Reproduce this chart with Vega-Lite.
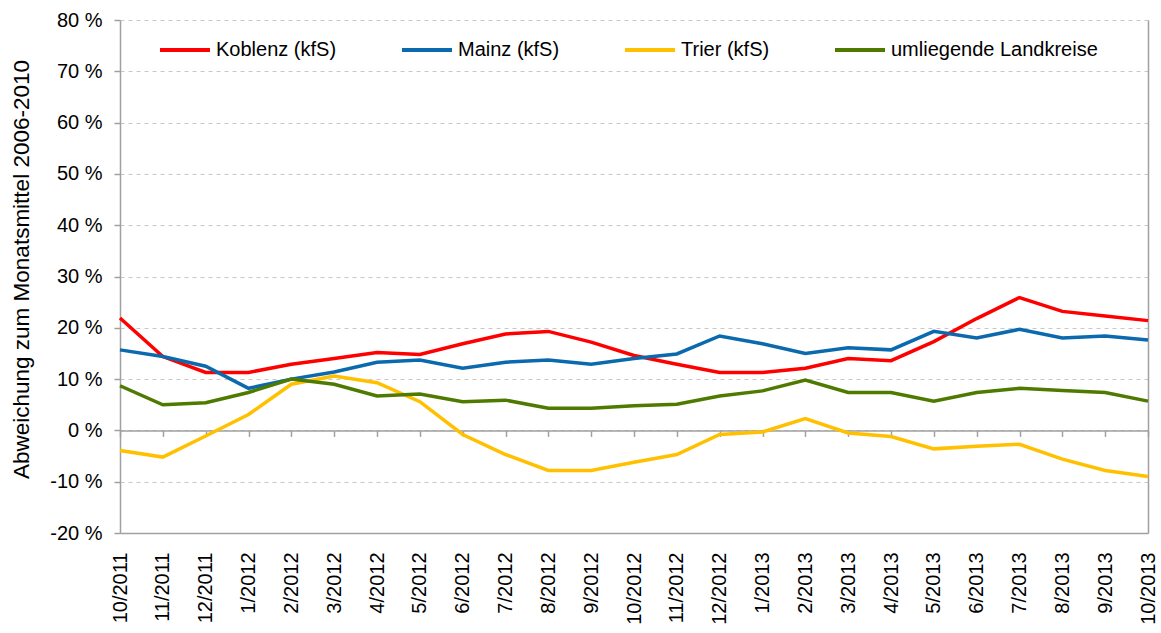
{
  "$schema": "https://vega.github.io/schema/vega-lite/v6.json",
  "autosize": {"type": "none"},
  "padding": {"left": 120, "top": 20, "right": 13, "bottom": 100},
  "width": 1028,
  "height": 513,
  "background": "white",
  "config": {
    "view": {"stroke": null},
    "font": "Liberation Sans",
    "axis": {"labelFont": "Liberation Sans", "titleFont": "Liberation Sans", "labelColor": "black", "titleColor": "black"}
  },
  "datasets": {
    "d": [
      {"m":"10/2011","s":"Koblenz (kfS)","v":21.9},{"m":"11/2011","s":"Koblenz (kfS)","v":14.4},{"m":"12/2011","s":"Koblenz (kfS)","v":11.3},{"m":"1/2012","s":"Koblenz (kfS)","v":11.3},{"m":"2/2012","s":"Koblenz (kfS)","v":12.9},{"m":"3/2012","s":"Koblenz (kfS)","v":14.0},{"m":"4/2012","s":"Koblenz (kfS)","v":15.2},{"m":"5/2012","s":"Koblenz (kfS)","v":14.8},{"m":"6/2012","s":"Koblenz (kfS)","v":16.9},{"m":"7/2012","s":"Koblenz (kfS)","v":18.8},{"m":"8/2012","s":"Koblenz (kfS)","v":19.3},{"m":"9/2012","s":"Koblenz (kfS)","v":17.2},{"m":"10/2012","s":"Koblenz (kfS)","v":14.6},{"m":"11/2012","s":"Koblenz (kfS)","v":12.9},{"m":"12/2012","s":"Koblenz (kfS)","v":11.3},{"m":"1/2013","s":"Koblenz (kfS)","v":11.3},{"m":"2/2013","s":"Koblenz (kfS)","v":12.1},{"m":"3/2013","s":"Koblenz (kfS)","v":14.0},{"m":"4/2013","s":"Koblenz (kfS)","v":13.6},{"m":"5/2013","s":"Koblenz (kfS)","v":17.3},{"m":"6/2013","s":"Koblenz (kfS)","v":21.8},{"m":"7/2013","s":"Koblenz (kfS)","v":25.9},{"m":"8/2013","s":"Koblenz (kfS)","v":23.2},{"m":"9/2013","s":"Koblenz (kfS)","v":22.3},{"m":"10/2013","s":"Koblenz (kfS)","v":21.4},
      {"m":"10/2011","s":"Mainz (kfS)","v":15.7},{"m":"11/2011","s":"Mainz (kfS)","v":14.4},{"m":"12/2011","s":"Mainz (kfS)","v":12.5},{"m":"1/2012","s":"Mainz (kfS)","v":8.2},{"m":"2/2012","s":"Mainz (kfS)","v":10.0},{"m":"3/2012","s":"Mainz (kfS)","v":11.4},{"m":"4/2012","s":"Mainz (kfS)","v":13.3},{"m":"5/2012","s":"Mainz (kfS)","v":13.7},{"m":"6/2012","s":"Mainz (kfS)","v":12.1},{"m":"7/2012","s":"Mainz (kfS)","v":13.3},{"m":"8/2012","s":"Mainz (kfS)","v":13.7},{"m":"9/2012","s":"Mainz (kfS)","v":12.9},{"m":"10/2012","s":"Mainz (kfS)","v":14.0},{"m":"11/2012","s":"Mainz (kfS)","v":14.9},{"m":"12/2012","s":"Mainz (kfS)","v":18.4},{"m":"1/2013","s":"Mainz (kfS)","v":16.9},{"m":"2/2013","s":"Mainz (kfS)","v":15.0},{"m":"3/2013","s":"Mainz (kfS)","v":16.1},{"m":"4/2013","s":"Mainz (kfS)","v":15.7},{"m":"5/2013","s":"Mainz (kfS)","v":19.3},{"m":"6/2013","s":"Mainz (kfS)","v":18.0},{"m":"7/2013","s":"Mainz (kfS)","v":19.7},{"m":"8/2013","s":"Mainz (kfS)","v":18.0},{"m":"9/2013","s":"Mainz (kfS)","v":18.4},{"m":"10/2013","s":"Mainz (kfS)","v":17.6},
      {"m":"10/2011","s":"Trier (kfS)","v":-3.9},{"m":"11/2011","s":"Trier (kfS)","v":-5.2},{"m":"12/2011","s":"Trier (kfS)","v":-1.1},{"m":"1/2012","s":"Trier (kfS)","v":3.1},{"m":"2/2012","s":"Trier (kfS)","v":9.0},{"m":"3/2012","s":"Trier (kfS)","v":10.6},{"m":"4/2012","s":"Trier (kfS)","v":9.3},{"m":"5/2012","s":"Trier (kfS)","v":5.6},{"m":"6/2012","s":"Trier (kfS)","v":-0.8},{"m":"7/2012","s":"Trier (kfS)","v":-4.7},{"m":"8/2012","s":"Trier (kfS)","v":-7.8},{"m":"9/2012","s":"Trier (kfS)","v":-7.8},{"m":"10/2012","s":"Trier (kfS)","v":-6.2},{"m":"11/2012","s":"Trier (kfS)","v":-4.7},{"m":"12/2012","s":"Trier (kfS)","v":-0.8},{"m":"1/2013","s":"Trier (kfS)","v":-0.3},{"m":"2/2013","s":"Trier (kfS)","v":2.3},{"m":"3/2013","s":"Trier (kfS)","v":-0.5},{"m":"4/2013","s":"Trier (kfS)","v":-1.2},{"m":"5/2013","s":"Trier (kfS)","v":-3.6},{"m":"6/2013","s":"Trier (kfS)","v":-3.1},{"m":"7/2013","s":"Trier (kfS)","v":-2.7},{"m":"8/2013","s":"Trier (kfS)","v":-5.6},{"m":"9/2013","s":"Trier (kfS)","v":-7.8},{"m":"10/2013","s":"Trier (kfS)","v":-9.0},
      {"m":"10/2011","s":"umliegende Landkreise","v":8.7},{"m":"11/2011","s":"umliegende Landkreise","v":5.0},{"m":"12/2011","s":"umliegende Landkreise","v":5.4},{"m":"1/2012","s":"umliegende Landkreise","v":7.4},{"m":"2/2012","s":"umliegende Landkreise","v":10.0},{"m":"3/2012","s":"umliegende Landkreise","v":9.0},{"m":"4/2012","s":"umliegende Landkreise","v":6.7},{"m":"5/2012","s":"umliegende Landkreise","v":7.1},{"m":"6/2012","s":"umliegende Landkreise","v":5.6},{"m":"7/2012","s":"umliegende Landkreise","v":5.9},{"m":"8/2012","s":"umliegende Landkreise","v":4.3},{"m":"9/2012","s":"umliegende Landkreise","v":4.3},{"m":"10/2012","s":"umliegende Landkreise","v":4.8},{"m":"11/2012","s":"umliegende Landkreise","v":5.1},{"m":"12/2012","s":"umliegende Landkreise","v":6.7},{"m":"1/2013","s":"umliegende Landkreise","v":7.7},{"m":"2/2013","s":"umliegende Landkreise","v":9.8},{"m":"3/2013","s":"umliegende Landkreise","v":7.4},{"m":"4/2013","s":"umliegende Landkreise","v":7.4},{"m":"5/2013","s":"umliegende Landkreise","v":5.7},{"m":"6/2013","s":"umliegende Landkreise","v":7.4},{"m":"7/2013","s":"umliegende Landkreise","v":8.2},{"m":"8/2013","s":"umliegende Landkreise","v":7.8},{"m":"9/2013","s":"umliegende Landkreise","v":7.4},{"m":"10/2013","s":"umliegende Landkreise","v":5.7}
    ]
  },
  "data": {"name": "d"},
  "layer": [
    {
      "mark": {"type": "point", "opacity": 0},
      "encoding": {
        "x": {"field": "m", "type": "nominal", "sort": null, "scale": {"type": "point", "padding": 0},
          "axis": {"offset": -102.6, "labels": false, "ticks": true, "tickSize": 6, "tickColor": "#a0a0a0", "tickWidth": 1.5, "domain": true, "domainColor": "#a0a0a0", "domainWidth": 1.5, "grid": false, "title": null}},
        "y": {"field": "v", "type": "quantitative", "scale": {"domain": [-20, 80], "nice": false, "zero": false},
          "axis": {"orient": "right", "labels": false, "ticks": false, "grid": false, "domain": true, "domainColor": "#a0a0a0", "domainWidth": 1.5, "title": null}}
      }
    },
    {
      "mark": {"type": "line", "strokeWidth": 3.5},
      "encoding": {
        "x": {"field": "m", "type": "nominal", "sort": null, "scale": {"type": "point", "padding": 0},
          "axis": {"orient": "bottom", "labelAngle": -90, "labelFontSize": 20, "labelPadding": 19, "ticks": false, "domain": true, "domainColor": "#a0a0a0", "domainWidth": 1.5, "grid": false, "title": null}},
        "y": {"field": "v", "type": "quantitative", "scale": {"domain": [-20, 80], "nice": false, "zero": false},
          "axis": {"orient": "left", "values": [-20,-10,0,10,20,30,40,50,60,70,80], "labelExpr": "datum.value + ' %'", "labelFontSize": 20, "labelPadding": 12, "tickSize": 6, "tickColor": "#a0a0a0", "tickWidth": 1.5, "domainColor": "#a0a0a0", "domainWidth": 1.5, "grid": true, "gridColor": "#c8c8c8", "gridDash": [4, 4], "gridWidth": 1,
            "title": "Abweichung zum Monatsmittel 2006-2010", "titleFontSize": 22.5, "titleFontWeight": "normal", "titleX": -99, "titleY": 249, "titleAngle": -90, "titleAlign": "center", "titleBaseline": "middle"}},
        "color": {"field": "s", "type": "nominal",
          "scale": {"domain": ["Koblenz (kfS)", "Mainz (kfS)", "Trier (kfS)", "umliegende Landkreise"], "range": ["#ff0000", "#0b69ad", "#ffc000", "#4f7a00"]},
          "legend": {"orient": "none", "legendX": 38, "legendY": 3, "direction": "horizontal", "columns": 4, "columnPadding": 57, "symbolType": "stroke", "symbolSize": 2500, "symbolStrokeWidth": 4, "labelFontSize": 20, "labelFont": "Liberation Sans", "labelColor": "black", "labelOffset": 4, "labelLimit": 400, "title": null}}
      }
    }
  ],
  "resolve": {"axis": {"x": "independent", "y": "independent"}}
}
